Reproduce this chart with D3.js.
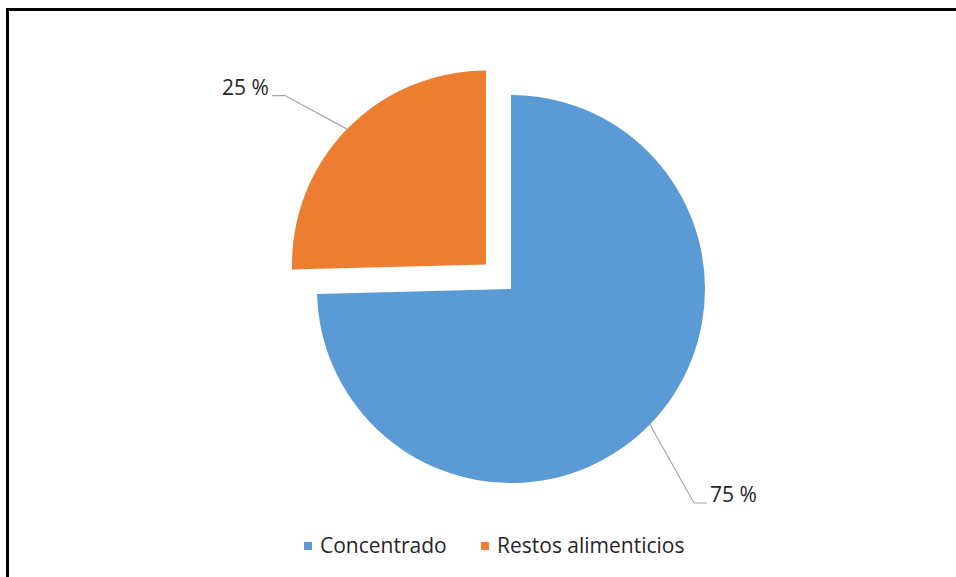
<!DOCTYPE html>
<html>
<head>
<meta charset="utf-8">
<script src="https://cdn.jsdelivr.net/npm/d3@7"></script>
<style>
  body { margin: 0; background: #fff; }
  svg { display: block; font-family: "Open Sans", sans-serif; }
</style>
</head>
<body>
<div id="chart"></div>
<script>
var categories = ['Concentrado', 'Restos alimenticios'];
var values = [74.6, 25.4];
var labels = ['75 %', '25 %'];
var colors = ['#5B9BD5', '#ED7D31'];

var width = 956, height = 577;
var cx = 511, cy = 289, radius = 194;
var explode = [0, 35];
// leader elbow offsets from the slice centre, and label side
var leaders = [
    {elbow: [183, 214], dir: 1},
    {elbow: [-201, -169], dir: -1}
];

var svg = d3.select('#chart').append('svg')
    .attr('width', width)
    .attr('height', height);

svg.append('rect').attr('width', width).attr('height', height).attr('fill', '#fff');

// frame (only left and top edges visible)
svg.append('line').attr('x1', 7.5).attr('x2', 7.5).attr('y1', 8).attr('y2', height)
    .attr('stroke', '#000').attr('stroke-width', 3);
svg.append('line').attr('x1', 6).attr('x2', width).attr('y1', 9.5).attr('y2', 9.5)
    .attr('stroke', '#000').attr('stroke-width', 3);

var pie = d3.pie().sort(null).value(function(d) { return d; });
var arcs = pie(values);
var arc = d3.arc().innerRadius(0).outerRadius(radius);

var g = svg.append('g').attr('transform', 'translate(' + cx + ',' + cy + ')');

arcs.forEach(function(d, i) {
    var mid = (d.startAngle + d.endAngle) / 2;
    var ox = Math.sin(mid) * explode[i], oy = -Math.cos(mid) * explode[i];
    var sg = g.append('g').attr('transform', 'translate(' + ox + ',' + oy + ')');
    sg.append('path').attr('d', arc(d)).attr('fill', colors[i]);

    var p0 = [Math.sin(mid) * radius, -Math.cos(mid) * radius];
    var p1 = leaders[i].elbow;
    var p2 = [p1[0] + leaders[i].dir * 13, p1[1]];
    sg.append('polyline')
        .attr('points', [p0, p1, p2].map(function(p) { return p.join(','); }).join(' '))
        .attr('fill', 'none').attr('stroke', '#a6a6a6').attr('stroke-width', 1.2);
    sg.append('text')
        .attr('x', p2[0] + leaders[i].dir * 3)
        .attr('y', p2[1] - 1)
        .attr('text-anchor', leaders[i].dir > 0 ? 'start' : 'end')
        .attr('font-size', 21)
        .attr('fill', '#262626')
        .text(labels[i]);
});

// legend
var legendX = [304, 481];
var legend = svg.append('g').attr('transform', 'translate(0,546)');
categories.forEach(function(c, i) {
    legend.append('rect').attr('x', legendX[i]).attr('y', -4).attr('width', 8).attr('height', 8)
        .attr('fill', colors[i]);
    legend.append('text').attr('x', legendX[i] + 16).attr('y', 0).attr('dy', '0.35em')
        .attr('font-size', 21).attr('fill', '#262626').text(c);
});
</script>
</body>
</html>
